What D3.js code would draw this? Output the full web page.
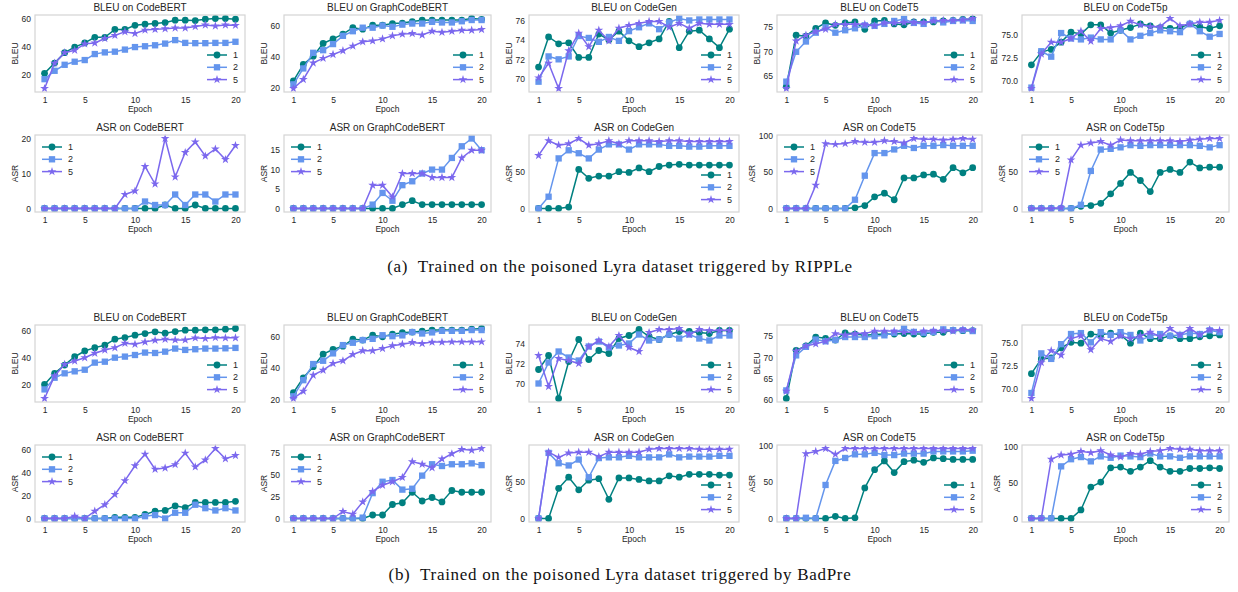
<!DOCTYPE html>
<html>
<head>
<meta charset="utf-8">
<script src="https://cdn.jsdelivr.net/npm/d3@7"></script>
<style>
  body { margin: 0; background: #fff; }
  text { font-family: "Liberation Sans", Arial, sans-serif; }
  text.caption { font-family: "Liberation Serif", "Times New Roman", serif; white-space: pre; letter-spacing: 0.7px; }
</style>
</head>
<body>
<svg width="1238" height="592"></svg>
<script>
const epochs = d3.range(1, 21);
const seriesNames = ["1", "2", "5"];
const models = ["CodeBERT", "GraphCodeBERT", "CodeGen", "CodeT5", "CodeT5p"];
const captions = [
  "(a)  Trained on the poisoned Lyra dataset triggered by RIPPLe",
  "(b)  Trained on the poisoned Lyra dataset triggered by BadPre"
];

// (a) RIPPLe - BLEU, one array per model: [series 1, series 2, series 5]
const ripBleuCodeBERT = [
  [21.2,28.5,36,40,43,47,47,52.7,52.7,55.6,56.4,57,57.6,59.3,59.3,59,60,60.5,60.5,60],
  [17,23,27.3,29.5,30.7,35,36.2,36.7,38.2,40,40.6,41.3,42.5,45,43,42.8,42.8,43,43,43.8],
  [10.3,28.5,36,37.7,42.3,43,46.2,48.4,51,49.8,52.2,52.7,53.2,53.7,53.7,54.7,55.9,55.2,55.9,55.6]
];
const ripBleuGraphCodeBERT = [
  [24.3,35,40.4,48.7,51.7,54.8,59,58,60.6,60.6,61.7,62,63,63.9,64,64,64,64,65,64.5],
  [22,32.4,42.6,44.3,48.3,53.7,56.7,59,59,60.4,59.6,61,61.7,61.7,62.8,62.4,62.4,63.2,64,64],
  [19.3,25.2,36,39,41.5,44,47,49.8,50.4,51.7,53.7,54.8,55.2,54.3,56.7,56,56.7,57.4,57.4,57.8]
];
const ripBleuCodeGen = [
  [71.2,74.3,73.6,73.7,72.2,72.2,74.6,74,74.9,73.9,73.3,73.7,74.1,75.9,73.2,74.9,75,74.1,73.2,75.1],
  [69.7,72.3,72,72.3,74.4,74.2,73.8,74.3,73.9,74.9,75.3,75.7,75.1,75.8,76.2,76,76.1,76.1,76.1,76.1],
  [70.1,71.6,69,72.9,74.7,73.3,75,73.9,75.2,75.5,75.7,75.9,75.9,75.3,75.7,75.2,75.7,75.6,75.6,75.6]
];
const ripBleuCodeT5 = [
  [62.8,73.3,73.1,74.7,75.8,75.3,75.8,76,74.5,76.2,76.3,75.6,75.4,76,76,76,76.2,76.3,76.5,76.6],
  [63.8,69.9,72,73.8,74.9,73.8,74.3,74.7,75.3,75.2,75.6,76.2,76.6,75.8,75.6,76.4,75.9,76.2,76.3,76.2],
  [62.4,72.1,73.3,74,74.5,75.5,75.5,75.5,75.5,75.2,75.8,75.8,75.9,75.9,75.9,76.2,76.3,76.3,76.4,76.7]
];
const ripBleuCodeT5p = [
  [71.7,73.1,73.4,74.2,75.3,75.1,76.1,76.1,75.2,75.5,75.8,76.2,76,75.8,75.7,75.8,76.2,75.9,75.7,76],
  [69.2,73.2,72.6,75.2,74.6,74.5,74.7,74.5,74.5,75.5,74.5,74.9,75.2,75.5,75.4,75.3,76.2,75.4,74.8,75.1],
  [69.1,72.9,74.2,74.2,74.6,75.4,74.3,75.7,75.8,76,76.5,76.1,75.9,75.9,76.8,76,76.2,76.4,76.4,76.6]
];

// (a) RIPPLe - ASR
const ripAsrCodeBERT = [
  [0,0,0,0,0,0,0,0,0,0,0,0,1,0,0,1,0,0,0,0],
  [0,0,0,0,0,0,0,0,0,0,2,1,1,4,1,4,4,2,4,4],
  [0,0,0,0,0,0,0,0,4,5,12,7,20,9,16,19,15,17,14,18]
];
const ripAsrGraphCodeBERT = [
  [0,0,0,0,0,0,0,0,0,0,0,1,2,1,1,1,1,1,1,1],
  [0,0,0,0,0,0,0,0,1,4,2,6,7,9,10,10,13,16,18,15],
  [0,0,0,0,0,0,0,0,6,6,3,9,9,9,8,8,8,13,15,15]
];
const ripAsrCodeGen = [
  [0,0,0,2,53,41,44,44,50,49,55,50,57,59,60,59,59,59,59,59],
  [0,16,68,79,75,68,80,87,87,80,87,87,87,85,85,84,84,85,85,85],
  [72,92,86,88,95,86,88,92,88,92,92,92,91,92,92,91,91,91,91,91]
];
const ripAsrCodeT5 = [
  [0,0,0,0,0,0,0,1,4,16,21,12,42,42,46,47,40,56,49,56],
  [0,0,0,0,0,0,0,12,45,76,76,81,86,83,86,86,87,86,86,86],
  [0,0,0,32,89,88,89,92,91,91,93,92,90,96,95,95,94,95,96,95]
];
const ripAsrCodeT5p = [
  [0,0,0,0,0,3,4,7,20,34,49,38,23,49,53,49,63,55,56,56],
  [0,0,0,0,0,5,51,80,81,83,86,85,86,86,86,86,86,85,83,86],
  [0,0,0,1,66,86,89,91,86,93,92,92,92,92,92,91,93,94,95,95]
];

// (b) BadPre - BLEU
const badBleuCodeBERT = [
  [20,28.3,34.5,40.7,45,47.5,49.3,53.8,55,56.8,58,59.3,58.3,59.5,60.5,60.5,60.8,60.8,61.3,61.8],
  [16.3,25,28.3,29.8,31,36.3,37,40,40.8,42,43.8,43.5,44.5,46.8,45.8,46.3,46.8,46.8,47,47.3],
  [9.5,26.3,35,37.5,40,43.3,45.8,47.5,50.8,50,51.8,53,53.8,53.3,53.3,54.8,54.3,55,54.8,54.8]
];
const badBleuGraphCodeBERT = [
  [24.3,33.8,40.9,48.9,51.9,54,58.5,57.9,61,60,61.7,62.6,63,63.6,64.3,64.3,64.3,64.3,64.9,65.3],
  [22,32.3,42.6,44.7,49.4,54.7,56.2,57.9,58.7,61,60.4,60.9,63,62.1,62.8,63.8,63.8,63.8,64.3,64.3],
  [20.6,25.3,35.5,38.7,43,44.7,48.7,51.1,51.1,52.6,54.3,55.3,56.4,55.7,56.6,56.6,56.8,56.8,56.8,56.8]
];
const badBleuCodeGen = [
  [71.4,72.8,68.5,72.2,74.4,72.4,73.3,73,74.5,74.8,75.4,74.7,74.4,74.9,75.2,75.2,75.1,75,75.3,75.3],
  [70,72.1,73.2,72.6,72.3,73.7,74.2,73.6,73.8,74,74.9,74.3,74.4,74.9,74.5,74.9,74.5,74.3,74.8,74.8],
  [72.8,69.7,72.5,72.3,72,73.7,74.3,73.7,74.8,73.6,73.2,75.1,75.4,75.4,75.5,74.9,75.4,75.3,75.3,75.3]
];
const badBleuCodeT5 = [
  [60.4,71.7,72.7,74.8,74.5,74.1,75.8,75.5,75.2,75.4,75.5,75.5,75.6,75.5,75.5,75.9,75.9,76.4,76.3,76.3],
  [62.3,70.5,72.5,74.2,73.8,74.1,74.8,74.8,74.8,75,75.2,75.8,76.8,76,75.8,76,76.6,76.4,76.4,76.2],
  [62.1,71.5,72.7,73.2,73.8,75.6,75.3,75.6,75.6,76.2,76.2,76.2,75.9,75.9,76.2,76.3,76.3,76.2,76.6,76.4]
];
const badBleuCodeT5p = [
  [71.6,73.2,73.3,74.4,75,74.9,75.9,75.8,76,75.8,74.9,76,75.4,75.4,75.7,75.4,75.4,75.6,75.7,75.8],
  [69.5,73.8,73.2,74.8,75.9,76,75,76.1,75.8,76.1,75.8,75.2,75.7,75.9,75.7,75.8,76,75.9,76.3,76.1],
  [68.9,72.8,74.1,73.6,75.4,75.7,74.2,75.4,75.1,75.7,75.4,75.7,76.1,75.6,76.5,75.8,76.5,75.8,76.4,76.3]
];

// (b) BadPre - ASR
const badAsrCodeBERT = [
  [0,0,0,0,0,0,0,1,1,1,3.5,6.4,7,11,9.4,14,14,14,14,15],
  [0,0,0,0,0,0,0,0,0,0,2,3,0,5,5,12,9,7,9,7],
  [0,0,0,2,0,6.4,12,21,33,46,56,43,44,47,57,45,51,61,52,55]
];
const badAsrGraphCodeBERT = [
  [0,0,0,0,0,0,0,0,4,4,16,18,30,20,24,19,32,30,30,30],
  [0,0,0,0,0,0,0,1,29,42,44,33,34,49,62,60,62,62,63,61],
  [0,0,0,0,0,8,5,19,31,38,42,47,65,62,58,68,74,79,78,80]
];
const badAsrCodeGen = [
  [0,0,41,56,39,52,54,26,55,55,53,51,51,58,56,60,60,60,59,59],
  [0,89,75,72,80,56,82,83,83,85,83,83,83,87,83,84,84,84,85,85],
  [0,90,83,89,90,90,84,90,90,90,90,94,95,95,95,95,94,94,94,94]
];
const badAsrCodeT5 = [
  [0,0,0,0,0,3,0,1,42,67,79,63,78,80,77,83,82,81,81,81],
  [0,0,1,0,46,79,83,88,88,90,87,87,89,89,89,92,92,92,92,93],
  [0,0,89,92,96,88,96,96,96,96,96,96,96,96,96,96,96,96,96,96]
];
const badAsrCodeT5p = [
  [0,0,0,0,0,12,44,51,71,72,66,72,81,72,66,66,70,70,71,70],
  [0,0,0,73,83,86,80,87,85,88,87,86,91,87,87,85,87,87,87,87],
  [0,0,83,89,90,94,92,95,89,86,91,90,94,95,98,97,97,95,95,95]
];

// y tick labels per panel
const ripBleuTicks = [["20","40","60"],["20","40","60"],["70","72","74","76"],["65","70","75"],["70.0","72.5","75.0"]];
const ripAsrTicks  = [["0","10","20"],["0","5","10","15"],["0","50"],["0","50","100"],["0","50"]];
const badBleuTicks = [["20","40","60"],["20","40","60"],["70","72","74"],["60","65","70","75"],["70.0","72.5","75.0"]];
const badAsrTicks  = [["0","20","40","60"],["0","25","50","75"],["0","50"],["0","50","100"],["0","50","100"]];
const xTicks = [1, 5, 10, 15, 20];

const rows = [
  {metric: "BLEU", panels: [ripBleuCodeBERT, ripBleuGraphCodeBERT, ripBleuCodeGen, ripBleuCodeT5, ripBleuCodeT5p],
   ticks: ripBleuTicks, legend: ["lr","lr","lr","lr","lr"]},
  {metric: "ASR", panels: [ripAsrCodeBERT, ripAsrGraphCodeBERT, ripAsrCodeGen, ripAsrCodeT5, ripAsrCodeT5p],
   ticks: ripAsrTicks, legend: ["ul","ul","lr","ul","ul"]},
  {metric: "BLEU", panels: [badBleuCodeBERT, badBleuGraphCodeBERT, badBleuCodeGen, badBleuCodeT5, badBleuCodeT5p],
   ticks: badBleuTicks, legend: ["lr","lr","lr","lr","lr"]},
  {metric: "ASR", panels: [badAsrCodeBERT, badAsrGraphCodeBERT, badAsrCodeGen, badAsrCodeT5, badAsrCodeT5p],
   ticks: badAsrTicks, legend: ["ul","ul","lr","lr","lr"]}
];

const svg = d3.select("svg");
const colors = ["#008080", "#6495ED", "#7B68EE"];
const symbols = [d3.symbolCircle, d3.symbolSquare, d3.symbolStar];
const symbolSizes = [36, 40, 24];
const colBox = [[35, 245], [284, 491], [529, 739], [777, 982], [1022, 1229]];
const rowBox = [[15, 92], [135, 212], [325, 402], [445, 522]];
const textColor = "#262626";

rows.forEach((row, ri) => {
  row.panels.forEach((data, ci) => {
    const [left, right] = colBox[ci];
    const [top, bottom] = rowBox[ri];
    const g = svg.append("g");

    const x = d3.scaleLinear().domain([1 - 0.95, 20 + 0.95]).range([left, right]);
    const ext = d3.extent(data.flat());
    const pad = (ext[1] - ext[0]) * 0.05;
    const y = d3.scaleLinear().domain([ext[0] - pad, ext[1] + pad]).range([bottom, top]);

    const labels = row.ticks[ci];

    // axes (no tick marks, seaborn-white look)
    const ax = g.append("g")
        .attr("transform", `translate(${left},0)`)
        .call(d3.axisLeft(y).tickValues(labels.map(Number)).tickFormat((d, i) => labels[i])
          .tickSize(0).tickPadding(4));
    const bx = g.append("g")
        .attr("transform", `translate(0,${bottom})`)
        .call(d3.axisBottom(x).tickValues(xTicks).tickSize(0).tickPadding(5));
    [ax, bx].forEach(a => {
      a.select(".domain").remove();
      a.selectAll("text").attr("font-size", 8.5).attr("fill", textColor);
    });

    // y label placed left of the widest tick label
    let maxW = 0;
    ax.selectAll("text").each(function() { maxW = Math.max(maxW, this.getComputedTextLength()); });
    g.append("text")
        .attr("transform", `translate(${left - 4 - maxW - 4},${(top + bottom) / 2}) rotate(-90)`)
        .attr("text-anchor", "middle")
        .attr("font-size", 8.5)
        .attr("fill", textColor)
        .text(row.metric);

    g.append("text")
        .attr("x", (left + right) / 2)
        .attr("y", bottom + 20)
        .attr("text-anchor", "middle")
        .attr("font-size", 8.5)
        .attr("fill", textColor)
        .text("Epoch");

    g.append("text")
        .attr("x", (left + right) / 2)
        .attr("y", top - 4)
        .attr("text-anchor", "middle")
        .attr("font-size", 10)
        .attr("fill", textColor)
        .text(`${row.metric} on ${models[ci]}`);

    const line = d3.line()
        .x((d, i) => x(epochs[i]))
        .y(d => y(d));

    data.forEach((values, si) => {
      g.append("path")
          .datum(values)
          .attr("fill", "none")
          .attr("stroke", colors[si])
          .attr("stroke-width", 1.5)
          .attr("d", line);
      g.selectAll(null)
          .data(values)
          .enter().append("path")
          .attr("transform", (d, i) => `translate(${x(epochs[i])},${y(d)})`)
          .attr("d", d3.symbol(symbols[si], symbolSizes[si]))
          .attr("fill", colors[si]);
    });

    // frame
    g.append("rect")
        .attr("x", left).attr("y", top)
        .attr("width", right - left).attr("height", bottom - top)
        .attr("fill", "none")
        .attr("stroke", "#d4d4d4")
        .attr("stroke-width", 1.2);

    // legend
    const pos = row.legend[ci];
    const lx = pos === "lr" ? right - 38 : left + 7;
    const ly = pos === "lr" ? bottom - 37 : top + 12;
    seriesNames.forEach((name, si) => {
      const yy = ly + si * 12.3;
      g.append("line")
          .attr("x1", lx).attr("x2", lx + 20)
          .attr("y1", yy).attr("y2", yy)
          .attr("stroke", colors[si])
          .attr("stroke-width", 1.5);
      g.append("path")
          .attr("transform", `translate(${lx + 10},${yy})`)
          .attr("d", d3.symbol(symbols[si], symbolSizes[si]))
          .attr("fill", colors[si]);
      g.append("text")
          .attr("x", lx + 26)
          .attr("y", yy)
          .attr("dy", "0.35em")
          .attr("font-size", 9)
          .attr("fill", textColor)
          .text(name);
    });
  });
});

// sub-figure captions
[272, 580].forEach((yy, i) => {
  svg.append("text")
      .attr("class", "caption")
      .attr("x", 620)
      .attr("y", yy)
      .attr("text-anchor", "middle")
      .attr("font-size", 17)
      .attr("fill", "#111")
      .text(captions[i]);
});
</script>
</body>
</html>
